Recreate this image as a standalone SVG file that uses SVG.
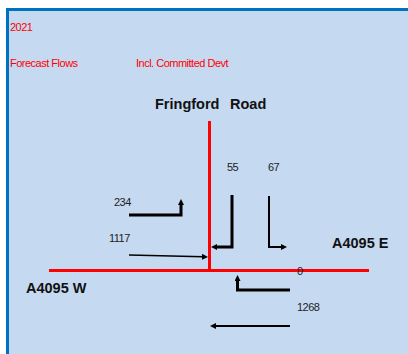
<svg xmlns="http://www.w3.org/2000/svg" width="408" height="354" viewBox="0 0 408 354">
<style>
.red{font-family:"Liberation Sans",Arial,sans-serif;font-size:11px;fill:#FF0000;letter-spacing:-0.5px}
.num{font-family:"Liberation Sans",Arial,sans-serif;font-size:11px;fill:#222222;letter-spacing:-0.5px}
.road{font-family:"Liberation Sans",Arial,sans-serif;font-size:14.5px;font-weight:bold;fill:#111111}
.rd{stroke:#FF0000;stroke-width:3;fill:none}
.fl{stroke:#000000;fill:none;marker-end:url(#ah)}
</style>
<defs>
<marker id="ah" markerUnits="userSpaceOnUse" markerWidth="7" markerHeight="7" refX="1" refY="3" orient="auto">
<path d="M0,0 L6,3 L0,6 z" fill="#000000"/>
</marker>
</defs>
<rect x="0" y="0" width="408" height="354" fill="#FFFFFF"/>
<rect x="7.5" y="9.5" width="402" height="346" fill="#C5D9F1" stroke="#0070C0" stroke-width="3"/>
<g id="titles">
<text class="red" x="10" y="31">2021</text>
<text class="red" x="10" y="66.5">Forecast Flows</text>
<text class="red" x="136" y="66.5">Incl. Committed Devt</text>
</g>
<g id="roads">
<line class="rd" x1="209.5" y1="121" x2="209.5" y2="270.5"/>
<line class="rd" x1="49" y1="270.5" x2="369" y2="270.5"/>
</g>
<g id="road-labels">
<text class="road" x="155" y="109" font-size="14">Fringford</text>
<text class="road" x="230" y="109" font-size="14">Road</text>
<text class="road" x="332" y="248">A4095 E</text>
<text class="road" x="26" y="293">A4095 W</text>
</g>
<g id="connectors">
<path class="fl" d="M129,215 H181 V204" stroke-width="3"/>
<path class="fl" d="M129,255 L203,256.8" stroke-width="1.5"/>
<path class="fl" d="M232,195 V247 H216" stroke-width="3"/>
<path class="fl" d="M269,196 V247 H282" stroke-width="2"/>
<path class="fl" d="M290,290 H237.5 V280" stroke-width="3"/>
<path class="fl" d="M290,326 H215" stroke-width="2"/>
</g>
<g id="flow-labels">
<text class="num" x="114" y="206">234</text>
<text class="num" x="109" y="242">1117</text>
<text class="num" x="227" y="171">55</text>
<text class="num" x="268" y="171">67</text>
<text class="num" x="297" y="275">0</text>
<text class="num" x="297" y="311">1268</text>
</g>
</svg>
